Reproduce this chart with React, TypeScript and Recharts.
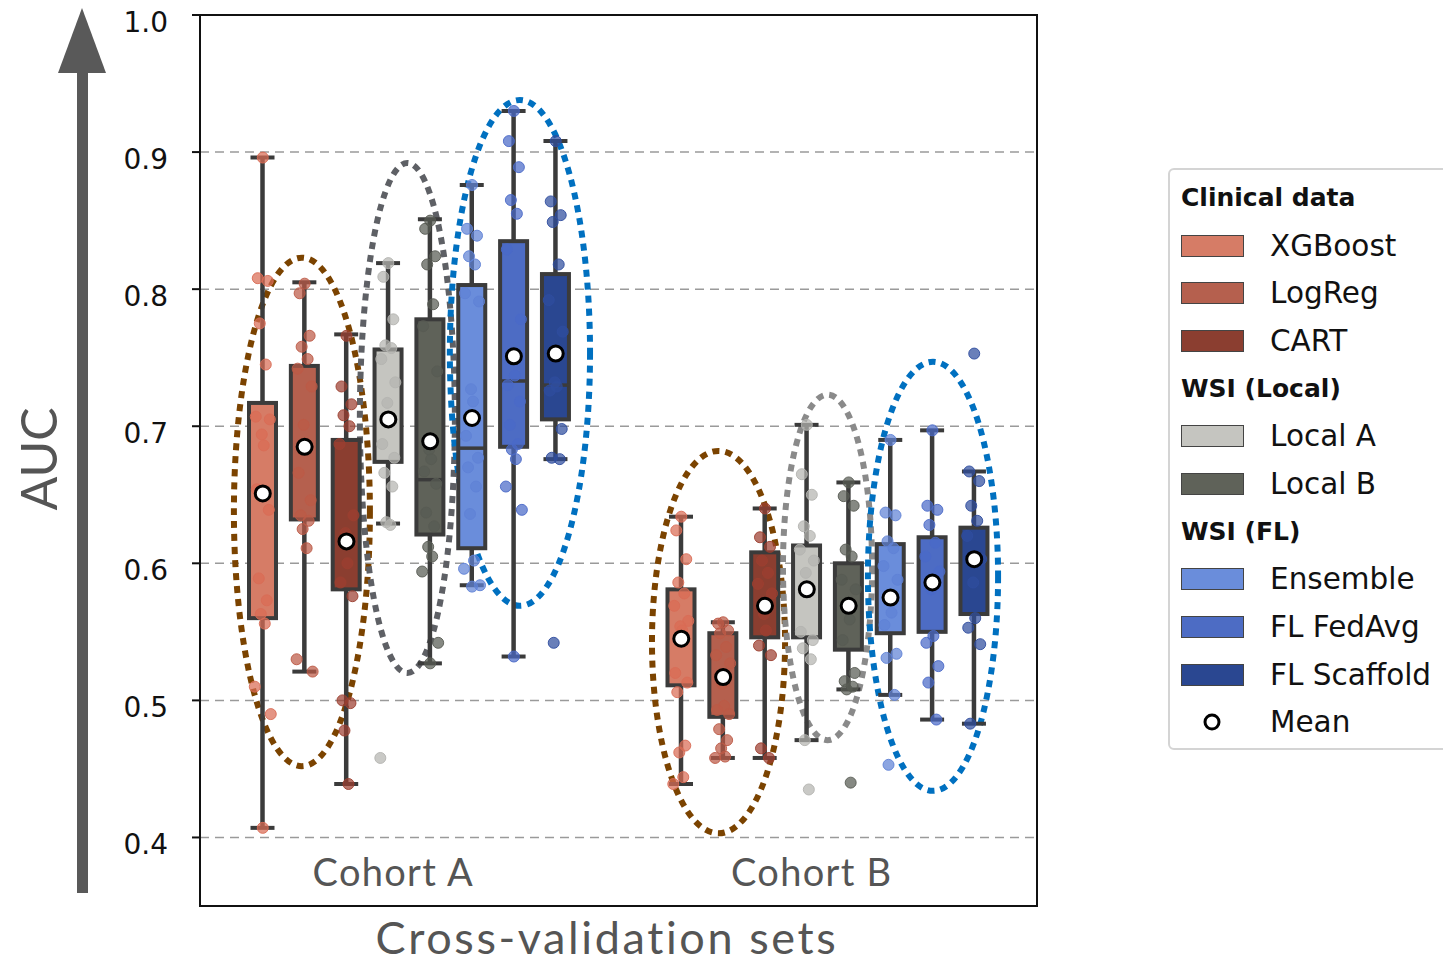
import { ComposedChart, Bar, Scatter, XAxis, YAxis, CartesianGrid, ReferenceArea } from "recharts";

const COHORTS = ["Cohort A", "Cohort B"];
const MODELS = ["XGBoost", "LogReg", "CART", "Local A", "Local B", "Ensemble", "FL FedAvg", "FL Scaffold"];
const Y_TICKS = [0.4, 0.5, 0.6, 0.7, 0.8, 0.9, 1.0];

// Cohort A box statistics (one value per model)
const q1A = [0.56, 0.632, 0.581, 0.674, 0.621, 0.611, 0.685, 0.705];
const medA = [null, null, null, null, 0.661, 0.684, 0.733, 0.73];
const q3A = [0.717, 0.744, 0.69, 0.756, 0.778, 0.803, 0.835, 0.811];
const loA = [0.407, 0.521, 0.439, 0.629, 0.527, 0.584, 0.532, 0.676];
const hiA = [0.896, 0.805, 0.767, 0.819, 0.851, 0.876, 0.93, 0.908];
const meanA = [0.651, 0.685, 0.616, 0.705, 0.689, 0.706, 0.751, 0.753];

// Cohort B box statistics
const q1B = [0.511, 0.488, 0.546, 0.546, 0.537, 0.549, 0.55, 0.563];
const medB = [null, null, null, null, null, null, null, null];
const q3B = [0.581, 0.549, 0.608, 0.613, 0.6, 0.614, 0.619, 0.626];
const loB = [0.439, 0.458, 0.458, 0.471, 0.508, 0.504, 0.486, 0.483];
const hiB = [0.634, 0.557, 0.64, 0.701, 0.659, 0.69, 0.697, 0.667];
const meanB = [0.545, 0.517, 0.569, 0.581, 0.569, 0.575, 0.586, 0.603];

// per-fold AUC values (strip points)
const ptsA = [
  [0.896, 0.808, 0.806, 0.775, 0.745, 0.707, 0.705, 0.694, 0.686, 0.654, 0.639, 0.589, 0.573, 0.563, 0.556, 0.51, 0.49, 0.407],
  [0.804, 0.797, 0.766, 0.758, 0.749, 0.742, 0.729, 0.701, 0.687, 0.666, 0.646, 0.635, 0.631, 0.625, 0.611, 0.53, 0.521],
  [0.766, 0.729, 0.716, 0.708, 0.7, 0.687, 0.635, 0.622, 0.6, 0.586, 0.576, 0.5, 0.498, 0.478, 0.439],
  [0.819, 0.809, 0.778, 0.759, 0.757, 0.749, 0.732, 0.717, 0.703, 0.687, 0.677, 0.666, 0.656, 0.63, 0.628, 0.458],
  [0.85, 0.844, 0.824, 0.818, 0.789, 0.773, 0.74, 0.683, 0.676, 0.667, 0.658, 0.637, 0.627, 0.612, 0.605, 0.594, 0.542, 0.527],
  [0.876, 0.844, 0.839, 0.824, 0.818, 0.797, 0.791, 0.727, 0.718, 0.693, 0.677, 0.67, 0.656, 0.636, 0.602, 0.596, 0.584, 0.583],
  [0.93, 0.908, 0.889, 0.865, 0.855, 0.829, 0.778, 0.75, 0.737, 0.73, 0.718, 0.701, 0.687, 0.683, 0.676, 0.656, 0.639, 0.532],
  [0.908, 0.864, 0.854, 0.849, 0.818, 0.792, 0.769, 0.732, 0.729, 0.726, 0.698, 0.677, 0.676, 0.542],
];
const ptsB = [
  [0.634, 0.624, 0.603, 0.586, 0.578, 0.569, 0.558, 0.554, 0.551, 0.52, 0.513, 0.506, 0.467, 0.462, 0.444, 0.439],
  [0.557, 0.556, 0.551, 0.549, 0.539, 0.533, 0.527, 0.512, 0.496, 0.493, 0.49, 0.479, 0.471, 0.465, 0.459, 0.458],
  [0.64, 0.619, 0.612, 0.602, 0.593, 0.585, 0.578, 0.563, 0.551, 0.54, 0.533, 0.465, 0.458],
  [0.701, 0.665, 0.65, 0.627, 0.62, 0.61, 0.602, 0.593, 0.58, 0.55, 0.544, 0.538, 0.53, 0.471, 0.435],
  [0.659, 0.649, 0.642, 0.61, 0.605, 0.588, 0.581, 0.567, 0.559, 0.544, 0.52, 0.514, 0.51, 0.508, 0.44],
  [0.69, 0.637, 0.635, 0.616, 0.611, 0.598, 0.588, 0.575, 0.564, 0.555, 0.534, 0.531, 0.504, 0.453],
  [0.697, 0.642, 0.639, 0.628, 0.615, 0.605, 0.594, 0.581, 0.547, 0.542, 0.525, 0.513, 0.486],
  [0.753, 0.667, 0.66, 0.642, 0.631, 0.62, 0.603, 0.586, 0.56, 0.553, 0.541, 0.483],
];

const Q1 = [q1A, q1B];
const MED = [medA, medB];
const Q3 = [q3A, q3B];
const LO = [loA, loB];
const HI = [hiA, hiB];
const MEAN = [meanA, meanB];
const PTS = [ptsA, ptsB];

const BOX_COLORS = ["#d67c66", "#b5604e", "#8b3e30", "#c5c5c0", "#5f6259", "#6a8ddb", "#4d6cc4", "#2a4791"];
const PT_COLORS = ["#d96c55", "#bd5a46", "#9c3f30", "#b4b4b0", "#585b53", "#5f82d6", "#4a69c8", "#2f4d9e"];
const EDGE = "#3b3b3b";

// annotation ellipses (data coords)
const ELLIPSES = [
  { x1: -0.419, x2: -0.094, y1: 0.452, y2: 0.823, color: "#7b4300" },
  { x1: -0.118, x2: 0.109, y1: 0.52, y2: 0.892, color: "#5e6065" },
  { x1: 0.097, x2: 0.432, y1: 0.569, y2: 0.938, color: "#0070c0" },
  { x1: 0.58, x2: 0.898, y1: 0.403, y2: 0.682, color: "#7b4300" },
  { x1: 0.893, x2: 1.106, y1: 0.471, y2: 0.723, color: "#8a8a8a" },
  { x1: 1.096, x2: 1.407, y1: 0.434, y2: 0.747, color: "#0070c0" },
];

const BAND_PX = 418.5;
const SLOT = 0.1;
const JITTER = [0, -5, 5, -3, 3, -7, 7, -1, 1, -6, 6, -4, 4, -2, 2, -8, 8];

const rows = COHORTS.map((cohort, idx) => ({ cohort, idx }));

const slotX = (c: number, i: number) => c + (i - 3.5) * SLOT;

const stripData = MODELS.map((_, i) =>
  [0, 1].flatMap((c) =>
    PTS[c][i].map((v, j) => ({ x: slotX(c, i) + JITTER[j % JITTER.length] / BAND_PX, y: v }))
  )
);
const meanData = [0, 1].flatMap((c) => MODELS.map((_, i) => ({ x: slotX(c, i), y: MEAN[c][i] })));

const boxRange = (row: any, i: number) => {
  if (!row || row.idx == null || !Q1[row.idx]) return null;
  return [Q1[row.idx][i], Q3[row.idx][i]];
};

const BoxShape = (props: any) => {
  const { x, y, width, height, payload, model } = props;
  if (!payload || payload.idx == null || !Q1[payload.idx]) return null;
  const c = payload.idx;
  const q1 = Q1[c][model];
  const q3 = Q3[c][model];
  const top = Math.min(y, y + height);
  const h = Math.abs(height);
  const ppu = h / (q3 - q1);
  const py = (v: number) => top + (q3 - v) * ppu;
  const cx = x + width / 2;
  const med = MED[c][model];
  return (
    <g>
      <line x1={cx} x2={cx} y1={py(HI[c][model])} y2={top} stroke={EDGE} strokeWidth={4.5} />
      <line x1={cx} x2={cx} y1={top + h} y2={py(LO[c][model])} stroke={EDGE} strokeWidth={4.5} />
      <line x1={cx - 12} x2={cx + 12} y1={py(HI[c][model])} y2={py(HI[c][model])} stroke={EDGE} strokeWidth={4} />
      <line x1={cx - 12} x2={cx + 12} y1={py(LO[c][model])} y2={py(LO[c][model])} stroke={EDGE} strokeWidth={4} />
      <rect x={x} y={top} width={width} height={h} fill={BOX_COLORS[model]} stroke={EDGE} strokeWidth={4} />
      {med != null && <line x1={x} x2={x + width} y1={py(med)} y2={py(med)} stroke={EDGE} strokeWidth={3.5} />}
    </g>
  );
};

const YTick = ({ x, y, payload }: any) => (
  <text x={x} y={y + 7} dy="0.355em" textAnchor="end" fontSize={28} fontFamily="DejaVu Sans" fill="#111">
    {Number(payload.value).toFixed(1)}
  </text>
);

const CohortTick = ({ x, y, payload }: any) => (
  <text x={x - 16} y={y - 20} textAnchor="middle" fontSize={38} letterSpacing={1.3} fontFamily="Lato" fill="#555">
    {payload.value}
  </text>
);

const LEGEND_ROWS: { kind: string; label: string; color?: string }[] = [
  { kind: "title", label: "Clinical data" },
  { kind: "item", label: MODELS[0], color: BOX_COLORS[0] },
  { kind: "item", label: MODELS[1], color: BOX_COLORS[1] },
  { kind: "item", label: MODELS[2], color: BOX_COLORS[2] },
  { kind: "title", label: "WSI (Local)" },
  { kind: "item", label: MODELS[3], color: BOX_COLORS[3] },
  { kind: "item", label: MODELS[4], color: BOX_COLORS[4] },
  { kind: "title", label: "WSI (FL)" },
  { kind: "item", label: MODELS[5], color: BOX_COLORS[5] },
  { kind: "item", label: MODELS[6], color: BOX_COLORS[6] },
  { kind: "item", label: MODELS[7], color: BOX_COLORS[7] },
  { kind: "mean", label: "Mean" },
];

const LegendBox = () => (
  <div
    style={{
      position: "absolute",
      left: 1168,
      top: 168,
      width: 300,
      height: 582,
      border: "2px solid #d4d4d4",
      borderRadius: 6,
      boxSizing: "border-box",
      background: "#fff",
      paddingTop: 4,
      fontFamily: "DejaVu Sans",
      color: "#111",
    }}
  >
    {LEGEND_ROWS.map((r) => (
      <div key={r.label} style={{ height: 47.7, display: "flex", alignItems: "center", paddingLeft: 11 }}>
        {r.kind === "title" && <span style={{ fontWeight: "bold", fontSize: 25 }}>{r.label}</span>}
        {r.kind === "item" && (
          <>
            <div style={{ width: 63, height: 22, background: r.color, border: "1.5px solid #444", boxSizing: "border-box" }} />
            <span style={{ marginLeft: 26, fontSize: 29.5 }}>{r.label}</span>
          </>
        )}
        {r.kind === "mean" && (
          <>
            <svg width={63} height={22}>
              <circle cx={31} cy={11} r={7} fill="#fff" stroke="#000" strokeWidth={3} />
            </svg>
            <span style={{ marginLeft: 26, fontSize: 29.5 }}>{r.label}</span>
          </>
        )}
      </div>
    ))}
  </div>
);

export default function App() {
  return (
    <div style={{ position: "absolute", left: 0, top: 0, width: 1443, height: 964, overflow: "hidden", background: "#fff" }}>
      <ComposedChart width={1443} height={964} data={rows} margin={{ top: 15, right: 406, bottom: 57, left: 120 }} barSize={27} barGap={14.85}>
        <CartesianGrid vertical={false} stroke="#9a9a9a" strokeDasharray="9 6" strokeWidth={1.5} />
        <XAxis type="number" dataKey="x" domain={[-0.5, 1.5]} hide allowDataOverflow orientation="top" height={0} />
        <XAxis
          xAxisId="cat"
          dataKey="cohort"
          type="category"
          height={1}
          tickSize={0}
          tickMargin={0}
          tickLine={false}
          axisLine={{ stroke: "#111", strokeWidth: 2 }}
          tick={CohortTick}
          interval={0}
        />
        <YAxis
          type="number"
          domain={[0.35, 1.0]}
          ticks={Y_TICKS}
          allowDataOverflow
          width={80}
          tickSize={8}
          tickMargin={24}
          tick={YTick}
          axisLine={{ stroke: "#111", strokeWidth: 2 }}
          tickLine={{ stroke: "#111", strokeWidth: 2 }}
        />
        {MODELS.map((m, i) => (
          <Bar
            key={m}
            xAxisId="cat"
            dataKey={(row: any) => boxRange(row, i)}
            isAnimationActive={false}
            shape={(p: any) => <BoxShape {...p} model={i} />}
          />
        ))}
        {MODELS.map((m, i) => (
          <Scatter
            key={"s" + m}
            data={stripData[i]}
            dataKey="y"
            isAnimationActive={false}
            shape={(p: any) => (
              <circle cx={p.cx} cy={p.cy} r={5.5} fill={PT_COLORS[i]} fillOpacity={0.72} stroke={PT_COLORS[i]} strokeOpacity={0.9} strokeWidth={1} />
            )}
          />
        ))}
        <Scatter
          data={meanData}
          dataKey="y"
          isAnimationActive={false}
          shape={(p: any) => <circle cx={p.cx} cy={p.cy} r={7.5} fill="#fff" stroke="#000" strokeWidth={3} />}
        />
        {ELLIPSES.map((e, k) => (
          <ReferenceArea
            key={"e" + k}
            x1={e.x1}
            x2={e.x2}
            y1={e.y1}
            y2={e.y2}
            shape={(p: any) => (
              <ellipse
                cx={p.x + p.width / 2}
                cy={p.y + p.height / 2}
                rx={p.width / 2}
                ry={p.height / 2}
                fill="none"
                stroke={e.color}
                strokeWidth={6}
                strokeDasharray="7 6"
              />
            )}
          />
        ))}
        <ReferenceArea x1={-0.5} x2={1.5} y1={0.35} y2={1.0} fill="none" fillOpacity={0} stroke="#111" strokeWidth={2} />
      </ComposedChart>
      <svg width={1443} height={964} style={{ position: "absolute", left: 0, top: 0, pointerEvents: "none" }}>
        <rect x={77} y={70} width={11} height={823} fill="#595959" />
        <polygon points="82,8 58,73 106,73" fill="#595959" />
        <text transform="translate(57,459) rotate(-90)" textAnchor="middle" fontSize={50} fontFamily="Lato" fill="#555">
          AUC
        </text>
        <text x={607} y={954} textAnchor="middle" fontSize={45} letterSpacing={2.6} fontFamily="Lato" fill="#555">
          Cross-validation sets
        </text>
      </svg>
      <LegendBox />
    </div>
  );
}
